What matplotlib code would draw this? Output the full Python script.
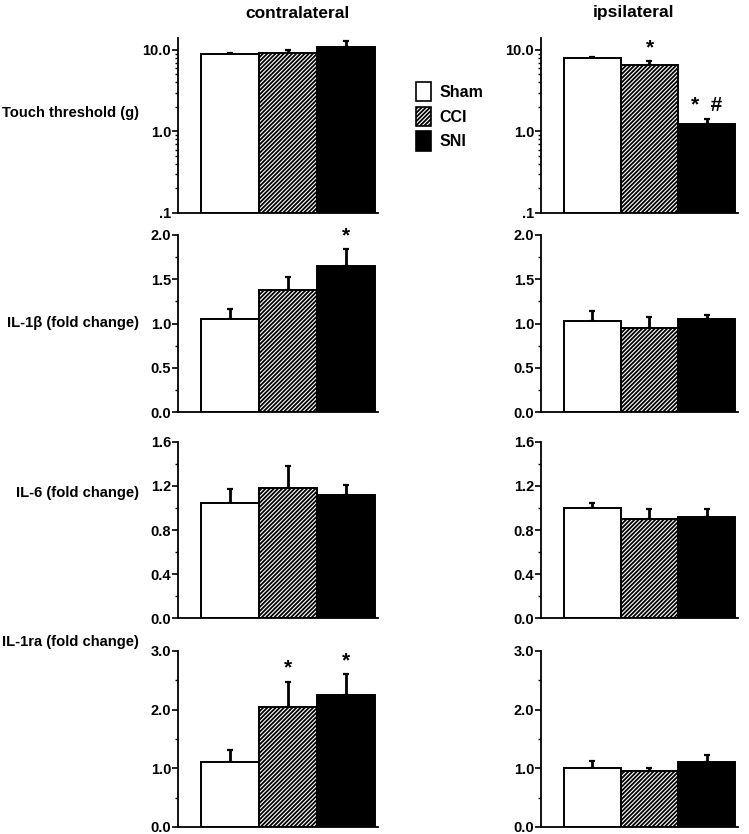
import numpy as np
import matplotlib
matplotlib.use("Agg")
import matplotlib.pyplot as plt
from matplotlib.patches import Patch
from matplotlib.ticker import FixedLocator, FixedFormatter, MultipleLocator, LogLocator, NullFormatter

plt.rcParams['font.family'] = ['Liberation Sans', 'DejaVu Sans']
plt.rcParams['font.weight'] = 'bold'
plt.rcParams['hatch.linewidth'] = 1.3
plt.rcParams['hatch.color'] = '#1a1a1a'

groups = ["Sham", "CCI", "SNI"]
sides = ["contralateral", "ipsilateral"]
row_labels = ["Touch threshold (g)", "IL-1\u03b2 (fold change)", "IL-6 (fold change)", "IL-1ra (fold change)"]

# means and upper error bars (mean + SEM), [contralateral, ipsilateral]
touch_mean = [[8.8, 9.2, 11.0], [8.0, 6.6, 1.25]]
touch_top = [[9.2, 10.0, 12.8], [8.3, 7.3, 1.42]]
il1b_mean = [[1.05, 1.38, 1.65], [1.03, 0.95, 1.05]]
il1b_top = [[1.16, 1.52, 1.84], [1.14, 1.07, 1.10]]
il6_mean = [[1.05, 1.18, 1.12], [1.00, 0.90, 0.92]]
il6_top = [[1.17, 1.38, 1.21], [1.05, 0.99, 0.99]]
il1ra_mean = [[1.10, 2.05, 2.25], [1.00, 0.95, 1.11]]
il1ra_top = [[1.31, 2.48, 2.60], [1.12, 1.00, 1.23]]

# significance marks: (row, col, bar, text)
marks = [(0, 1, 1, "*"), (0, 1, 2, "*  #"), (1, 0, 2, "*"), (3, 0, 1, "*"), (3, 0, 2, "*")]

means = [touch_mean, il1b_mean, il6_mean, il1ra_mean]
tops = [touch_top, il1b_top, il6_top, il1ra_top]
ylims = [(0.1, 14.0), (0, 2.0), (0, 1.6), (0, 3.0)]
majors = [[0.1, 1.0, 10.0], [0, 0.5, 1.0, 1.5, 2.0], [0, 0.4, 0.8, 1.2, 1.6], [0, 1.0, 2.0, 3.0]]
major_labels = [[".1", "1.0", "10.0"], ["0.0", "0.5", "1.0", "1.5", "2.0"],
                ["0.0", "0.4", "0.8", "1.2", "1.6"], ["0.0", "1.0", "2.0", "3.0"]]
minor_step = [None, 0.25, 0.2, 0.5]

fig = plt.figure(figsize=(7.49, 8.34), dpi=100)

W, H = 749.0, 834.0
col_px = [(178, 200), (541, 197)]
row_px = [(38, 213), (235, 412), (442, 618), (651, 827)]

face = ["white", "white", "black"]
hatch = [None, "////////", None]
x = np.arange(3)

axes = {}
for r in range(4):
    for c in range(2):
        x0, w = col_px[c]
        yt, yb = row_px[r]
        ax = fig.add_axes([x0 / W, 1 - yb / H, w / W, (yb - yt) / H])
        axes[(r, c)] = ax
        m = np.array(means[r][c])
        t = np.array(tops[r][c])
        if r == 0:
            ax.set_yscale("log")
            base = 0.1
        else:
            base = 0.0
        ax.bar(x, m - base, bottom=base, width=1.0, color=face, edgecolor="black",
               linewidth=1.4, hatch=hatch, zorder=2)
        ax.errorbar(x, m, yerr=[np.zeros(3), t - m], fmt="none", ecolor="black",
                    elinewidth=2.0, capsize=2, capthick=1.6, zorder=1)
        ax.set_xlim(-0.9, 2.55)
        ax.set_ylim(*ylims[r])
        ax.yaxis.set_major_locator(FixedLocator(majors[r]))
        ax.yaxis.set_major_formatter(FixedFormatter(major_labels[r]))
        if r == 0:
            ax.yaxis.set_minor_locator(LogLocator(base=10, subs=np.arange(2, 10)))
            ax.yaxis.set_minor_formatter(NullFormatter())
        else:
            ax.yaxis.set_minor_locator(MultipleLocator(minor_step[r]))
        ax.spines["top"].set_visible(False)
        ax.spines["right"].set_visible(False)
        ax.spines["left"].set_linewidth(1.3)
        ax.spines["bottom"].set_linewidth(1.3)
        ax.set_xticks([])
        ax.tick_params(axis="y", which="major", length=4, width=1.2, labelsize=10.5, pad=1)
        ax.tick_params(axis="y", which="minor", length=2.5, width=1.0)
        for lab in ax.get_yticklabels():
            lab.set_fontweight("bold")

for r, c, b, txt in marks:
    ax = axes[(r, c)]
    top = tops[r][c][b]
    ax.annotate(txt, xy=(b, top), xytext=(0, 3), textcoords="offset points",
                ha="center", va="bottom", fontsize=15, fontweight="bold")

title_x = [297, 633]
for c, name in enumerate(sides):
    fig.text(title_x[c] / W, 1 - 13 / H, name, ha="center", va="center",
             fontsize=12.5, fontweight="bold")

label_y = [113, 323, 493, 642]
for r, lab in enumerate(row_labels):
    fig.text(139 / W, 1 - label_y[r] / H, lab, ha="right", va="center",
             fontsize=10.6, fontweight="bold")

handles = [Patch(facecolor=face[i], edgecolor="black", hatch=hatch[i], linewidth=1.2) for i in range(3)]
fig.legend(handles, groups, loc="upper left", bbox_to_anchor=(416 / W, 1 - 82 / H),
           frameon=False, fontsize=11.5, handlelength=0.95, handleheight=1.5,
           handletextpad=0.5, labelspacing=0.32, borderpad=0, borderaxespad=0)

fig.savefig("out.png", dpi=100)
